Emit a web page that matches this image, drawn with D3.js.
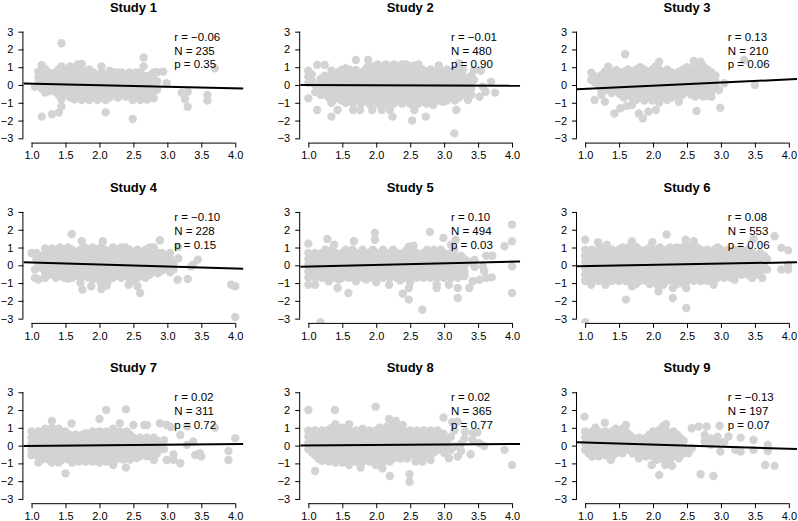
<!DOCTYPE html>
<html>
<head>
<meta charset="utf-8">
<script src="https://cdn.jsdelivr.net/npm/d3@7"></script>
<style>
  html, body { margin: 0; padding: 0; background: #fff; }
  svg { display: block; }
  text { font-family: "Liberation Sans", Arial, Helvetica, sans-serif; }
</style>
</head>
<body>
<svg id="chart" width="798" height="521"></svg>
<script>
// ---------- data ----------
const studyTitles = ["Study 1","Study 2","Study 3","Study 4","Study 5","Study 6","Study 7","Study 8","Study 9"];
const rValues = [-0.06, -0.01, 0.13, -0.10, 0.10, 0.08, 0.02, 0.02, -0.13];
const nValues = [235, 480, 210, 228, 494, 553, 311, 365, 197];
const pValues = [0.35, 0.90, 0.06, 0.15, 0.03, 0.06, 0.72, 0.77, 0.07];
// fitted line: y = intercept + slope * x
const intercepts = [0.167, 0.01, -0.40, 0.268, -0.17, -0.12, -0.05, -0.025, 0.29];
const slopes = [-0.087, -0.012, 0.179, -0.111, 0.093, 0.071, 0.034, 0.028, -0.117];
const xTicks = [1.0, 1.5, 2.0, 2.5, 3.0, 3.5, 4.0];
const yTicks = [-3, -2, -1, 0, 1, 2, 3];

// points, grouped by x value: [x, y1, y2, ...]
const study1 = [
 [1.05,-0.10],[1.10,0.75,0.40,0.05],[1.15,1.12,0.20,-0.20,-1.78],[1.20,0.90,0.55,-0.42],
 [1.25,0.70,0.35,0.00,-0.35],[1.30,0.52,0.17,-0.18,-1.65],[1.35,0.70,0.35,0.00,-0.40],
 [1.40,0.88,0.52,0.17,-0.18,-0.55,-1.55],[1.44,2.35,1.05,-0.80,-1.20],[1.47,0.70,0.35,0.00,-0.35],
 [1.52,0.88,0.52,0.17,-0.18,-0.53],[1.57,1.05,0.70,0.35,0.00,-0.35,-0.70],
 [1.63,0.88,0.52,0.17,-0.18,-0.53,-0.80],[1.68,1.15,0.70,0.35,0.00,-0.35,-0.70],
 [1.74,1.18,0.88,0.52,0.17,-0.18,-0.53,-0.85],[1.80,0.70,0.35,0.00,-0.35,-0.70],
 [1.85,0.88,0.52,0.17,-0.18,-0.53,-0.85],[1.91,0.70,0.35,0.00,-0.35,-0.70],
 [1.97,0.52,0.17,-0.18,-0.53,-0.85],[2.03,1.05,0.70,0.35,0.00,-0.35,-0.70],
 [2.09,0.52,0.17,-0.18,-0.53,-0.85,-1.54],[2.15,0.80,0.35,0.00,-0.35,-0.70],
 [2.21,0.70,0.52,0.17,-0.18,-0.53],[2.27,0.70,0.35,0.00,-0.35,-0.70],
 [2.33,0.70,0.52,0.17,-0.18,-0.53],[2.39,0.35,0.00,-0.35,-0.65],
 [2.44,0.70,0.52,0.17,-0.18,-0.53],[2.49,0.35,0.00,-0.35,-0.70,-0.85,-1.91],
 [2.54,0.70,0.52,0.17,-0.18,-0.53],[2.60,0.70,0.35,0.00,-0.35,-0.70,-0.85],
 [2.65,1.55,1.05,0.52,0.17,-0.18,-0.53],[2.70,0.35,0.00,-0.35,-0.70,-0.82],
 [2.75,0.55,0.17,-0.18,-0.53],[2.80,0.70,0.30,-0.05,-0.40,-0.75],[2.85,0.72,0.20,-0.25],
 [2.94,0.75],[2.99,0.10],[3.21,-0.43],[3.26,-0.80],[3.30,-1.22,-0.38],[3.59,-0.56,-0.88],[3.70,0.94]
];
const study2 = [
 [1.00,0.80,0.45,0.12,-0.75],[1.05,0.60,0.25],[1.10,-0.40,0.00],[1.13,1.13,-1.41],
 [1.18,0.35,0.00,-0.35,-0.55],[1.24,1.13,0.52,0.17,-0.18,-0.53],[1.30,0.35,0.00,-0.35,-0.70],
 [1.34,0.80,-1.00,-1.78],[1.37,0.52,0.17,-0.18,-0.53,-0.85],[1.43,0.70,0.35,0.00,-0.35,-0.70,-1.41],
 [1.49,0.85,0.52,0.17,-0.18,-0.53,-0.88],[1.55,0.94,0.70,0.35,0.00,-0.35,-0.70,-1.00],
 [1.61,0.85,0.52,0.17,-0.18,-0.53,-0.88],[1.66,0.70,0.35,0.00,-0.35,-0.70,-1.05,-1.41],
 [1.70,1.41,0.85],[1.72,0.52,0.17,-0.18,-0.53,-0.88],[1.76,-1.41],
 [1.78,0.70,0.35,0.00,-0.35,-0.70,-1.05],[1.84,0.88,0.52,0.17,-0.18,-0.53,-0.88],
 [1.88,1.41,1.05],[1.90,0.70,0.35,0.00,-0.35,-0.70,-1.05],[1.94,-1.41],
 [1.96,1.05,0.88,0.52,0.17,-0.18,-0.53,-0.88],[2.02,1.15,0.70,0.35,0.00,-0.35,-0.70,-1.05],
 [2.08,1.05,0.88,0.52,0.17,-0.18,-0.53,-0.88,-1.41],[2.14,1.15,0.70,0.35,0.00,-0.35,-0.70,-1.05],
 [2.20,0.88,0.52,0.17,-0.18,-0.53,-0.88,-1.41],[2.24,-1.78],
 [2.26,1.15,0.70,0.35,0.00,-0.35,-0.70,-1.05],[2.32,1.05,0.88,0.52,0.17,-0.18,-0.53,-0.88],
 [2.38,1.15,0.70,0.35,0.00,-0.35,-0.70,-1.05],[2.44,1.15,0.88,0.52,0.17,-0.18,-0.53,-0.88],
 [2.50,1.05,0.70,0.35,0.00,-0.35,-0.70,-1.05],[2.53,-2.00],
 [2.56,1.10,0.88,0.52,0.17,-0.18,-0.53,-0.88,-1.41],[2.62,1.15,0.70,0.35,0.00,-0.35,-0.70,-1.05],
 [2.68,0.88,0.52,0.17,-0.18,-0.53,-0.88],[2.73,-1.78],[2.74,0.70,0.35,0.00,-0.35,-0.70,-1.05],
 [2.80,0.88,0.52,0.17,-0.18,-0.53,-0.88],[2.84,-1.13],[2.86,0.70,0.35,0.00,-0.35,-0.70],
 [2.92,1.10,0.88,0.52,0.17,-0.18,-0.53,-0.88],[2.98,0.70,0.35,0.00,-0.35,-0.70,-0.94],
 [3.04,0.88,0.52,0.17,-0.18,-0.53,-0.88],[3.10,0.70,0.35,0.00,-0.35,-0.70],[3.15,-2.72],
 [3.16,0.88,0.52,0.17,-0.18,-0.53,-0.88],[3.18,-1.41],[3.22,1.22,0.66,0.35,0.00,-0.35,-0.70],
 [3.28,0.88,0.52,0.17,-0.18,-0.53],[3.35,0.35,0.00,-0.35,-0.84],[3.40,0.52,0.17,-0.18,-0.55],
 [3.44,0.84,0.28],[3.52,-0.66],[3.54,0.80],[3.57,-0.10],[3.61,-0.38],[3.69,0.19],[3.75,-0.43]
];
const study3 = [
 [1.09,0.69,0.28],[1.14,0.50,0.15,-0.84],[1.20,0.35,-0.05],[1.24,0.55,0.20,-0.35,-0.55],
 [1.29,0.75,-0.10,-0.94],[1.34,1.03,0.40,0.05,-0.30],[1.39,0.70,0.25,-0.10,-0.45],[1.43,0.55,-1.60],
 [1.46,0.85,0.35,0.00,-0.35],[1.52,0.70,0.17,-0.18,-0.53,-1.31],[1.57,0.75,0.35,0.00,-0.35,-0.70],
 [1.59,1.73],[1.61,-1.18],[1.63,0.88,0.52,0.17,-0.18,-0.53],[1.69,0.70,0.35,0.00,-0.35,-0.70,-1.13],
 [1.75,0.88,0.52,0.17,-0.18,-0.53,-0.85],[1.79,-1.60],[1.81,1.00,0.70,0.35,0.00,-0.35,-0.70],
 [1.85,-1.88],[1.87,0.88,0.52,0.17,-0.18,-0.53,-0.88],[1.93,0.70,0.35,0.00,-0.35,-0.70,-1.50],
 [1.99,0.88,0.52,0.17,-0.18,-0.53,-0.88],[2.04,1.05,0.70,0.35,0.00,-0.35,-0.70,-1.41],
 [2.09,1.31,0.88,0.52,0.17,-0.18,-0.53,-1.00],[2.15,0.70,0.35,0.00,-0.35,-0.70],
 [2.21,0.88,0.52,0.17,-0.18,-0.53,-0.85],[2.27,0.70,0.35,0.00,-0.35,-0.70],[2.33,0.52,0.17,-0.18,-0.53],
 [2.38,0.75,0.35,0.00,-0.35,-0.70,-0.94],[2.44,0.88,0.52,0.17,-0.18,-0.53],[2.50,1.00,0.70,0.35,0.00,-0.35],
 [2.56,0.88,0.52,0.17,-0.18,-0.53],[2.60,1.35],[2.62,1.05,0.70,0.35,0.00,-0.35,-0.65],[2.64,-1.46],
 [2.68,0.88,0.52,0.17,-0.18,-0.53],[2.70,1.31],[2.74,1.05,0.70,0.35,0.00,-0.35,-0.65],
 [2.80,0.88,0.52,0.17,-0.18,-0.60],[2.86,0.70,0.35,0.00,-0.35,-0.66],[2.92,0.52,0.20,-0.10],
 [2.97,-0.28],[2.99,-1.28],[3.05,0.10],[3.34,1.41],[3.50,0.00]
];
const study4 = [
 [1.00,0.69],[1.05,-0.24,-0.71],[1.07,0.69,0.35],[1.10,0.10,-0.80],[1.15,0.55,0.20,-0.15],
 [1.20,0.95,-0.45,-0.71],[1.25,0.70,0.35,0.00,-0.35],[1.30,0.95,0.52,0.17,-0.18,-0.53],
 [1.36,0.88,0.35,0.00,-0.35,-0.70],[1.42,1.00,0.70,0.52,0.17,-0.18,-0.53],[1.48,0.88,0.35,0.00,-0.35,-0.70],
 [1.54,1.00,0.70,0.52,0.17,-0.18,-0.53,-0.75],[1.59,1.76],[1.60,0.88,0.35,0.00,-0.35,-0.70],
 [1.66,0.70,0.52,0.17,-0.18,-0.53],[1.72,0.88,0.35,0.00,-0.35,-0.70,-1.00],[1.74,1.35],[1.75,-1.37],
 [1.78,1.00,0.70,0.52,0.17,-0.18,-0.53],[1.84,0.88,0.35,0.00,-0.35,-0.70],[1.88,-1.18],
 [1.90,1.00,0.70,0.52,0.17,-0.18,-0.53,-0.80],[1.96,0.88,0.35,0.00,-0.35,-0.70],
 [2.02,1.00,0.70,0.52,0.17,-0.18,-0.53,-1.00],[2.03,-1.33],[2.05,1.35],[2.08,0.88,0.35,0.00,-0.35,-0.70],
 [2.11,-1.14],[2.14,0.70,0.52,0.17,-0.18,-0.53,-0.80],[2.20,1.00,0.35,0.00,-0.35,-0.70],
 [2.26,0.70,0.52,0.17,-0.18,-0.53],[2.32,1.00,0.88,0.35,0.00,-0.35,-0.70],
 [2.38,1.00,0.70,0.52,0.17,-0.18,-0.53],[2.43,-1.09],[2.44,0.88,0.35,0.00,-0.35,-0.70],
 [2.50,0.70,0.52,0.17,-0.18,-0.53,-0.85],[2.56,0.88,0.35,0.00,-0.35,-0.70,-1.18],[2.60,-1.56],
 [2.62,0.70,0.52,0.17,-0.18,-0.53],[2.68,0.88,0.35,0.00,-0.35,-0.70],[2.74,1.00,0.70,0.52,0.17,-0.18,-0.53],
 [2.80,1.00,0.88,0.35,0.00,-0.35],[2.86,0.70,0.52,0.17,-0.18,-0.45],[2.89,1.41],[2.92,0.69,0.35,0.00,-0.30],
 [2.98,0.52,0.17,-0.18],[3.04,0.69,0.35,-0.39],[3.09,-0.24,0.10],[3.15,-0.81],[3.16,1.03,0.40],
 [3.30,-0.77],[3.35,-0.06],[3.38,0.04],[3.45,0.32],[3.94,-1.09],[4.00,-1.18,-2.91]
];
const study5 = [
 [1.00,1.22,0.70,0.35,0.00,-0.35,-0.70,-1.09],[1.05,0.52,0.17,-0.18,-0.53],
 [1.10,0.70,0.35,0.00,-0.35,-0.70,-1.09],[1.15,0.52,0.17,-0.18,-0.53],[1.18,-3.20],
 [1.20,0.70,0.35,0.00,-0.35,-0.70],[1.25,0.88,0.52,0.17,-0.18,-0.53],[1.28,1.48],
 [1.30,0.70,0.35,0.00,-0.35,-0.70,-0.90],[1.35,0.88,0.52,0.17,-0.18,-0.53],[1.38,1.16],
 [1.40,0.70,0.35,0.00,-0.35,-0.70],[1.43,-1.28],[1.45,0.52,0.17,-0.18,-0.53,-0.80],
 [1.50,0.70,0.35,0.00,-0.35,-0.70],[1.55,0.88,0.52,0.17,-0.18,-0.53],[1.59,-1.56],
 [1.60,0.70,0.35,0.00,-0.35,-0.70],[1.65,0.88,0.52,0.17,-0.18,-0.53],[1.67,1.35],
 [1.70,0.70,0.35,0.00,-0.35,-0.70,-0.90],[1.75,0.52,0.17,-0.18,-0.53],
 [1.80,0.88,0.70,0.35,0.00,-0.35,-0.70],[1.85,0.52,0.17,-0.18,-0.53,-0.80],
 [1.90,0.70,0.35,0.00,-0.35,-0.70],[1.95,0.88,0.52,0.17,-0.18,-0.53],[1.98,1.82,1.44],
 [2.00,0.70,0.35,0.00,-0.35,-0.70,-0.95],[2.05,0.52,0.17,-0.18,-0.53],
 [2.10,0.88,0.70,0.35,0.00,-0.35,-0.70],[2.15,0.52,0.17,-0.18,-0.53],[2.19,-1.09],
 [2.20,0.70,0.35,0.00,-0.35,-0.70],[2.25,0.88,0.52,0.17,-0.18,-0.53],[2.30,0.70,0.35,0.00,-0.35,-0.70],
 [2.35,0.52,0.17,-0.18,-0.53,-0.85],[2.39,-1.60],[2.40,0.70,0.35,0.00,-0.35,-0.70],
 [2.45,0.88,0.52,0.17,-0.18,-0.53],[2.48,-1.28,-1.93,1.05],[2.50,0.70,0.35,0.00,-0.35,-0.70,-0.95],
 [2.55,1.10,0.52,0.17,-0.18,-0.53],[2.60,0.70,0.35,0.00,-0.35,-0.70],[2.65,0.52,0.17,-0.18,-0.53],
 [2.68,-2.50],[2.70,0.70,0.35,0.00,-0.35,-0.70],[2.75,0.88,0.52,0.17,-0.18,-0.53],[2.79,1.88],
 [2.80,0.70,0.35,0.00,-0.35,-0.70],[2.85,0.88,0.52,0.17,-0.18,-0.53],[2.89,-1.09,-1.28],
 [2.90,0.70,0.35,0.00,-0.35,-0.70],[2.95,0.88,0.52,0.17,-0.18,-0.53],[2.99,1.54],
 [3.00,0.70,0.35,0.00,-0.35,-0.70],[3.05,0.52,0.17,-0.18,-0.53],[3.07,-1.09],
 [3.10,1.16,0.70,0.35,0.00,-0.35,-0.70],[3.15,0.88,0.52,0.17,-0.18,-0.53],[3.17,1.44],
 [3.20,0.35,0.00,-0.35,-0.70,-1.28,-1.84],[3.25,0.52,0.17,-0.18],[3.30,0.35,0.00,-0.35,-0.60],
 [3.37,-1.28,0.20],[3.42,-0.90],[3.45,0.30,-0.10],[3.52,-0.81],[3.57,-0.06],[3.59,-0.34],
 [3.62,0.54,-0.71],[3.70,-0.68],[3.71,0.54],[3.89,1.07],[4.00,2.29,1.35,-0.06,-1.56]
];
const study6 = [
 [1.00,1.44,0.88,0.52,0.17,-0.18,-0.53,-0.88,-3.20],[1.05,0.70,0.35,0.00,-0.35,-0.70],[1.09,-1.09],
 [1.10,0.88,0.52,0.17,-0.18,-0.53,-0.88],[1.15,0.70,0.35,0.00,-0.35,-0.70],[1.19,1.30],
 [1.20,0.88,0.52,0.17,-0.18,-0.53,-0.88],[1.25,1.00,0.70,0.35,0.00,-0.35,-0.70],
 [1.30,0.88,0.52,0.17,-0.18,-0.53,-0.88,-1.09],[1.32,1.16],[1.35,0.70,0.35,0.00,-0.35,-0.70],
 [1.40,0.88,0.52,0.17,-0.18,-0.53,-0.88],[1.45,0.70,0.35,0.00,-0.35,-0.70],
 [1.50,0.88,0.52,0.17,-0.18,-0.53,-0.88],[1.55,1.00,0.70,0.35,0.00,-0.35,-0.70],
 [1.60,0.88,0.52,0.17,-0.18,-0.53,-0.88,-1.93],[1.65,1.05,0.70,0.35,0.00,-0.35,-0.70],
 [1.69,1.35,-1.18],[1.70,0.88,0.52,0.17,-0.18,-0.53,-0.88],[1.75,1.05,0.70,0.35,0.00,-0.35,-0.70,-1.05],
 [1.80,0.88,0.52,0.17,-0.18,-0.53,-0.88],[1.85,0.70,0.35,0.00,-0.35,-0.70],
 [1.90,0.88,0.52,0.17,-0.18,-0.53,-0.88],[1.95,1.00,0.70,0.35,0.00,-0.35,-0.70,-1.05],[1.99,1.30],
 [2.00,0.88,0.52,0.17,-0.18,-0.53,-0.88],[2.05,0.70,0.35,0.00,-0.35,-0.70,-1.05],[2.08,-1.46],
 [2.10,1.00,0.88,0.52,0.17,-0.18,-0.53,-0.88],[2.15,0.70,0.35,0.00,-0.35,-0.70,-1.10],
 [2.20,1.73,0.88,0.52,0.17,-0.18,-0.53,-0.88],[2.25,1.00,0.70,0.35,0.00,-0.35,-0.70],[2.29,-1.28,-1.84],
 [2.30,0.88,0.52,0.17,-0.18,-0.53,-0.88],[2.35,1.00,0.70,0.35,0.00,-0.35,-0.70,-1.05],
 [2.40,0.88,0.52,0.17,-0.18,-0.53,-0.88],[2.45,1.05,0.70,0.35,0.00,-0.35,-0.70,-1.05],[2.48,1.44],
 [2.49,-1.28,-2.40],[2.50,0.88,0.52,0.17,-0.18,-0.53,-0.88],[2.55,1.05,0.70,0.35,0.00,-0.35,-0.70],
 [2.60,1.35,0.88,0.52,0.17,-0.18,-0.53,-0.88],[2.65,1.00,0.70,0.35,0.00,-0.35,-0.70],
 [2.70,0.88,0.52,0.17,-0.18,-0.53,-0.88],[2.75,0.70,0.35,0.00,-0.35,-0.70],
 [2.80,0.88,0.52,0.17,-0.18,-0.53,-0.88],[2.85,0.70,0.35,0.00,-0.35,-0.70],[2.89,-1.09],
 [2.90,0.88,0.52,0.17,-0.18,-0.53,-0.88],[2.95,1.00,0.70,0.35,0.00,-0.35,-0.70],
 [3.00,0.88,0.52,0.17,-0.18,-0.53],[3.05,0.70,0.35,0.00,-0.35,-0.70],[3.10,0.88,0.52,0.17,-0.18,-0.53],
 [3.15,0.70,0.35,0.00,-0.35,-0.70],[3.20,0.88,0.52,0.17,-0.18,-0.53,-0.81],[3.25,0.70,0.35,0.00,-0.35],
 [3.30,0.88,0.52,0.17,-0.18,-0.53],[3.35,0.70,0.35,0.00,-0.35],[3.40,0.88,0.52,0.17,-0.18,-0.53],
 [3.46,0.70,0.35,0.00,-0.35,-0.71],[3.48,1.48],[3.52,0.52,0.17,-0.18,-0.53],[3.58,0.70,0.35,0.00,-0.35],
 [3.61,-0.71],[3.64,0.52,0.17,-0.18],[3.68,-0.24,0.35],[3.79,1.63],[3.89,0.98,-0.24],[3.99,0.84,-0.24,0.04]
];
const study7 = [
 [1.00,0.80,0.45,0.10,-0.25,-0.55],[1.05,0.62,0.27,-0.08,-0.43],[1.10,0.80,0.45,0.10,-0.25,-0.60,-0.95],
 [1.15,0.62,0.27,-0.08,-0.43,-0.78],[1.20,0.95,0.45,0.10,-0.25,-0.60],[1.25,0.80,0.62,0.27,-0.08,-0.43,-0.78],
 [1.30,1.39,1.00,0.45,0.10,-0.25,-0.60,-0.95],[1.35,0.80,0.62,0.27,-0.08,-0.43,-0.78],
 [1.40,0.95,0.45,0.10,-0.25,-0.60,-0.95],[1.45,0.62,0.27,-0.08,-0.43,-0.78],
 [1.50,0.80,0.45,0.10,-0.25,-0.60,-1.56],[1.55,0.62,0.27,-0.08,-0.43,-0.78],[1.59,1.24],
 [1.60,0.45,0.10,-0.25,-0.60,-0.95],[1.65,0.62,0.27,-0.08,-0.43,-0.78],[1.70,0.45,0.10,-0.25,-0.60,-0.90],
 [1.75,0.62,0.27,-0.08,-0.43,-0.78],[1.80,0.70,0.45,0.10,-0.25,-0.60,-0.90],[1.85,0.62,0.27,-0.08,-0.43,-0.78],
 [1.90,0.80,0.45,0.10,-0.25,-0.60,-0.90],[1.95,0.62,0.27,-0.08,-0.43,-0.78],
 [2.00,1.50,0.80,0.45,0.10,-0.25,-0.60,-0.95],[2.05,0.62,0.27,-0.08,-0.43,-0.78],
 [2.10,2.00,0.80,0.45,0.10,-0.25,-0.60,-0.90],[2.15,0.62,0.27,-0.08,-0.43,-0.78],
 [2.20,0.95,0.45,0.10,-0.25,-0.60,-1.09],[2.25,0.62,0.27,-0.08,-0.43,-0.78],
 [2.30,1.26,0.80,0.45,0.10,-0.25,-0.60],[2.35,0.62,0.27,-0.08,-0.43,-0.78],[2.39,2.04,-1.24],
 [2.40,0.80,0.45,0.10,-0.25,-0.60],[2.45,0.62,0.27,-0.08,-0.43,-0.78],[2.50,1.16,0.45,0.10,-0.25,-0.60],
 [2.55,0.27,-0.08,-0.43,-0.70],[2.60,0.45,0.10,-0.25,-0.60],[2.66,1.16,0.27,-0.08,-0.43],
 [2.70,1.16,0.45,0.10,-0.25,-0.60],[2.75,0.27,-0.08,-0.43],[2.80,0.45,0.10,-0.25,-0.60,-0.81],
 [2.85,0.27,-0.08,-0.43],[2.89,1.26,0.10],[2.95,0.30,-0.20],[2.99,1.16,-0.81],[3.05,1.05],
 [3.09,-0.81,-0.50],[3.19,0.60,-0.99],[3.29,1.07,0.04],[3.38,0.23],[3.41,-0.53],[3.48,-0.43],[3.50,-0.62],
 [3.70,1.01],[3.90,-0.30,-0.81],[4.00,0.41]
];
const study8 = [
 [1.00,2.00,0.85,0.50,0.15,-0.20],[1.05,0.67,0.32,-0.03,-0.38],[1.10,0.85,0.50,0.15,-0.20,-0.55,-1.43],
 [1.15,0.67,0.32,-0.03,-0.38,-0.73],[1.20,0.85,0.50,0.15,-0.20,-0.55,-0.85],[1.25,0.67,0.32,-0.03,-0.38,-0.73],
 [1.30,0.90,0.50,0.15,-0.20,-0.55,-0.90],[1.35,1.02,0.67,0.32,-0.03,-0.38,-0.73],[1.39,2.00],
 [1.40,1.20,0.85,0.50,0.15,-0.20,-0.55,-0.95],[1.45,0.67,0.32,-0.03,-0.38,-0.73],
 [1.50,1.00,0.50,0.15,-0.20,-0.55,-0.95],[1.55,0.67,0.32,-0.03,-0.38,-0.73],
 [1.60,1.20,0.85,0.50,0.15,-0.20,-0.55,-1.09],[1.65,0.67,0.32,-0.03,-0.38,-0.73],
 [1.70,0.85,0.50,0.15,-0.20,-0.55,-0.90],[1.75,0.67,0.32,-0.03,-0.38,-0.73],[1.77,-1.24],
 [1.80,0.95,0.50,0.15,-0.20,-0.55,-0.90],[1.85,0.67,0.32,-0.03,-0.38,-0.73],
 [1.90,0.85,0.50,0.15,-0.20,-0.55,-0.90],[1.95,0.67,0.32,-0.03,-0.38,-0.73],[1.99,2.19,-1.09],
 [2.00,0.85,0.50,0.15,-0.20,-0.55,-0.90],[2.05,1.00,0.67,0.32,-0.03,-0.38,-0.73],[2.09,-1.28],
 [2.10,0.85,0.50,0.15,-0.20,-0.55,-0.95],[2.15,1.05,0.67,0.32,-0.03,-0.38,-0.73],[2.19,1.50],
 [2.20,0.85,0.50,0.15,-0.20,-0.55,-0.90,-1.71],[2.25,1.15,0.67,0.32,-0.03,-0.38,-0.73],[2.29,1.39],
 [2.30,0.85,0.50,0.15,-0.20,-0.55],[2.35,1.00,0.67,0.32,-0.03,-0.38,-0.73],[2.39,1.16],
 [2.40,0.85,0.50,0.15,-0.20,-0.55],[2.45,0.67,0.32,-0.03,-0.38,-0.73],[2.49,-1.61,-2.03],
 [2.50,0.85,0.50,0.15,-0.20,-0.55],[2.55,0.67,0.32,-0.03,-0.38],[2.58,-0.90],
 [2.60,0.85,0.50,0.15,-0.20,-0.55],[2.65,0.67,0.32,-0.03,-0.38],[2.68,-0.90],
 [2.70,0.85,0.50,0.15,-0.20,-0.55],[2.75,0.67,0.32,-0.03,-0.38],[2.80,0.85,0.50,0.15,-0.20,-0.55,-0.81],
 [2.85,0.67,0.32,-0.03,-0.38],[2.90,0.85,0.50,0.15,-0.25],[2.93,0.04],[2.99,1.58,0.67],
 [3.00,0.30,-0.10,-0.40],[3.05,0.10],[3.07,-0.71],[3.10,0.50,-0.25],[3.12,1.31],[3.15,-0.05,0.85],
 [3.20,1.35,-0.62],[3.25,0.10,-0.30],[3.30,0.40],[3.31,0.79],[3.39,-0.49],[3.42,0.69,0.32],[3.49,0.75],
 [3.52,0.13],[3.59,-0.02],[3.89,-0.24],[4.00,-1.09]
];
const study9 = [
 [0.99,1.63],[1.00,0.80,0.45,0.10,-0.25],[1.05,0.62,0.27,-0.08,-0.43],[1.10,0.80,0.45,0.10,-0.25,-0.62],
 [1.15,1.00,0.62,0.27,-0.08,-0.43],[1.20,0.80,0.45,0.10,-0.25,-0.60],[1.25,0.62,0.27,-0.08,-0.43],
 [1.29,1.29],[1.30,0.80,0.45,0.10,-0.25,-0.55],[1.35,0.62,0.27,-0.08,-0.43],[1.38,-0.81],
 [1.40,0.80,0.45,0.10,-0.25,-0.60],[1.45,0.95,0.62,0.27,-0.08,-0.43],[1.50,0.80,0.45,0.10,-0.25],
 [1.55,0.95,0.62,0.27,-0.08,-0.43],[1.60,1.16,0.80,0.45,0.10,-0.25],[1.65,0.62,0.27,-0.08],
 [1.70,0.45,0.10,-0.25,-0.43],[1.75,0.27,-0.08],[1.79,-0.71,0.10],[1.80,0.45,-0.35],
 [1.85,0.27,-0.08,-0.55],[1.90,0.45,0.10,-0.25,-0.60],[1.95,0.62,0.27,-0.08,-0.43],[1.98,-1.09],
 [2.00,0.80,0.45,0.10,-0.25,-0.60],[2.05,0.62,0.27,-0.08,-0.43,-0.80],[2.09,-1.65],
 [2.10,0.90,0.45,0.10,-0.25,-0.60],[2.15,1.10,0.62,0.27,-0.08,-0.43,-0.78],[2.18,-1.09],[2.19,1.20],
 [2.20,0.80,0.45,0.10,-0.25,-0.60],[2.25,0.62,0.27,-0.08,-0.43,-0.78],[2.28,-1.13],
 [2.30,0.80,0.45,0.10,-0.25,-0.60],[2.35,0.62,0.27,-0.08,-0.43],[2.38,-0.71],[2.40,0.45,0.10,-0.25],
 [2.45,0.27,-0.08,-0.43],[2.52,-0.43],[2.57,0.98,-0.15],[2.67,1.07],[2.70,-1.61],[2.76,0.60,0.23],
 [2.79,1.07],[2.85,0.40,0.05],[2.89,-1.71],[2.95,0.50,0.20],[2.98,1.12],[2.99,-0.34],[3.05,0.20],
 [3.11,0.51],[3.21,-0.24],[3.29,0.45,-0.34],[3.48,0.32,-0.24],[3.65,-1.09],[3.69,0.04,-0.30],[3.79,-1.14]
];
const studyPoints = [study1, study2, study3, study4, study5, study6, study7, study8, study9];

// ---------- layout ----------
const colLeft = 23.4, colStep = 276.8, plotW = 220;
const rowTop = 27.4, rowStep = 180.3, plotH = 115.2;
const xDomain = [0.88, 4.12], yDomain = [-3.24, 3.24];
const pointColor = "#d3d3d3", pointR = 4.2;

const svg = d3.select("#chart");
const fmt2 = d3.format(".2f");
const fmtX = d3.format(".1f");
const fmtY = d3.format("d");

studyTitles.forEach((title, i) => {
  const col = i % 3, row = Math.floor(i / 3);
  const left = colLeft + col * colStep;
  const top = rowTop + row * rowStep;
  const x = d3.scaleLinear().domain(xDomain).range([left, left + plotW]);
  const y = d3.scaleLinear().domain(yDomain).range([top + plotH, top]);
  const g = svg.append("g");

  const clipId = "clip" + i;
  svg.append("clipPath").attr("id", clipId)
    .append("rect").attr("x", left).attr("y", top).attr("width", plotW).attr("height", plotH);

  const pts = studyPoints[i].flatMap(c => c.slice(1).map(v => [c[0], v]));
  const plot = g.append("g").attr("clip-path", `url(#${clipId})`);
  plot.selectAll("circle").data(pts).join("circle")
    .attr("cx", d => x(d[0])).attr("cy", d => y(d[1]))
    .attr("r", pointR).attr("fill", pointColor);

  plot.append("line")
    .attr("x1", x(xDomain[0])).attr("y1", y(intercepts[i] + slopes[i] * xDomain[0]))
    .attr("x2", x(xDomain[1])).attr("y2", y(intercepts[i] + slopes[i] * xDomain[1]))
    .attr("stroke", "#000").attr("stroke-width", 2);

  // axes
  const xAxis = d3.axisBottom(x).tickValues(xTicks).tickFormat(fmtX).tickSize(5).tickPadding(4);
  const gx = g.append("g").attr("transform", `translate(0,${top + plotH})`).call(xAxis);
  gx.select(".domain").attr("d", `M${x(xTicks[0])},0.5H${x(xTicks[xTicks.length - 1])}`);
  const yAxis = d3.axisLeft(y).tickValues(yTicks).tickFormat(fmtY).tickSize(5).tickPadding(5);
  const gy = g.append("g").attr("transform", `translate(${left},0)`).call(yAxis);
  gy.select(".domain").attr("d", `M-0.5,${y(yTicks[0])}V${y(yTicks[yTicks.length - 1])}`);
  [gx, gy].forEach(a => {
    a.selectAll("text").attr("font-size", 11).attr("fill", "#000")
      .attr("font-family", '"Liberation Sans", Arial, sans-serif');
    a.selectAll("line, path").attr("stroke", "#000");
    a.attr("font-size", null).attr("font-family", null);
  });

  // title
  g.append("text").attr("x", left + plotW / 2).attr("y", top - 15.6)
    .attr("text-anchor", "middle").attr("font-weight", "bold").attr("font-size", 13)
    .text(title);

  // statistics
  const lines = ["r = " + fmt2(rValues[i]), "N = " + nValues[i], "p = " + fmt2(pValues[i])];
  g.selectAll("text.stat").data(lines).join("text").attr("class", "stat")
    .attr("x", x(3.1)).attr("y", (d, k) => top + 13.4 + k * 13.8)
    .attr("font-size", 11.5).text(d => d);
});
</script>
</body>
</html>
